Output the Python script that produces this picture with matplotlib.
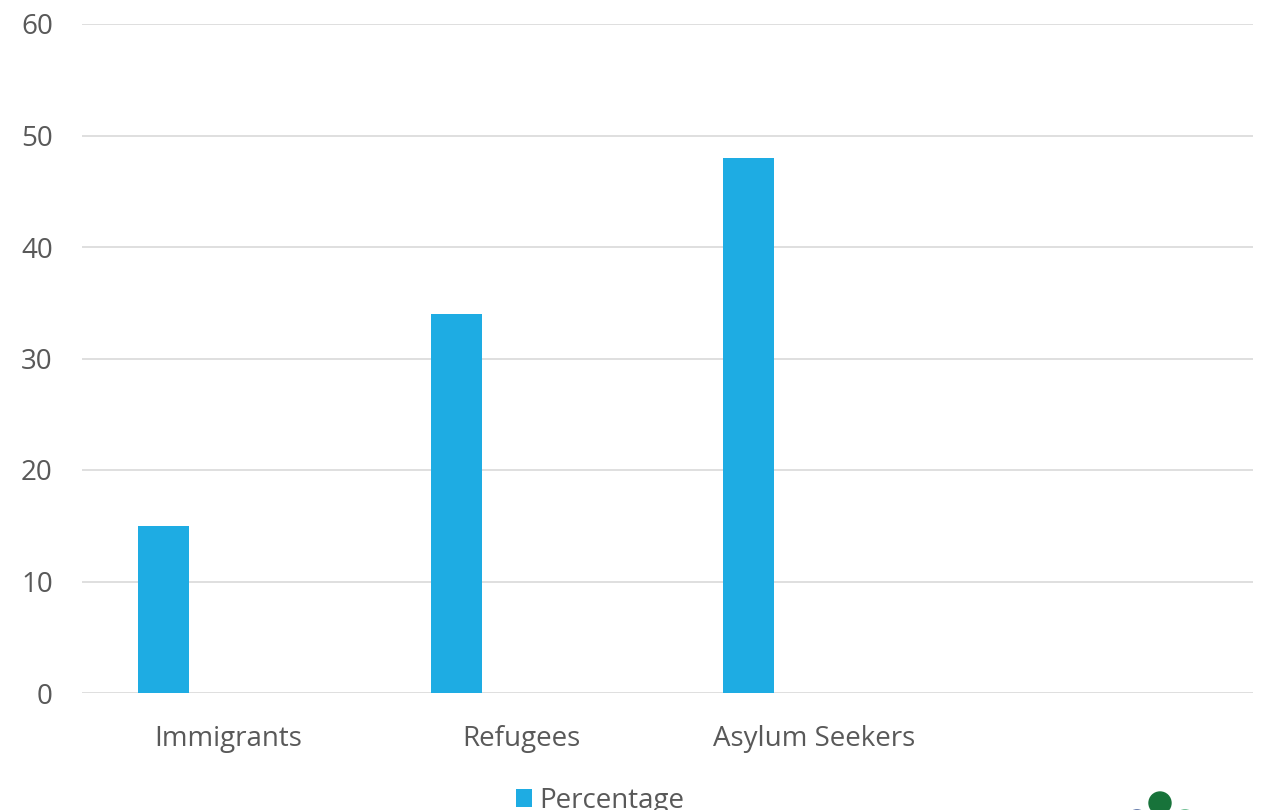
import matplotlib.pyplot as plt
from matplotlib.patches import Circle

categories = ["Immigrants", "Refugees", "Asylum Seekers", ""]
percentage = [15, 34, 48]
y_ticks = [0, 10, 20, 30, 40, 50, 60]

plt.rcParams['font.family'] = ['Open Sans', 'DejaVu Sans']
text_color = '#595959'
bar_color = '#1eace3'

fig = plt.figure(figsize=(12.63, 8.1), dpi=100)
ax = fig.add_axes([82 / 1263, 1 - 693 / 810, 1171 / 1263, 669 / 810])

x = list(range(len(percentage)))
ax.bar([i - 0.222 for i in x], percentage, width=0.174, color=bar_color,
       label='Percentage', zorder=3)

ax.set_xlim(-0.5, len(categories) - 0.5)
ax.set_ylim(0, 60)
ax.set_yticks(y_ticks)
ax.set_xticks(range(len(categories)))
ax.set_xticklabels(categories)
ax.tick_params(axis='both', length=0, labelsize=20, colors=text_color)
ax.tick_params(axis='x', pad=23)
ax.tick_params(axis='y', pad=21)
ax.grid(axis='y', color='#d9d9d9', linewidth=1.2, zorder=0)
for s in ax.spines.values():
    s.set_visible(False)

ax.legend(loc='center', bbox_to_anchor=(600 / 1263, 1 - 801 / 810),
          bbox_transform=fig.transFigure, frameon=False, fontsize=20,
          labelcolor=text_color, handlelength=0.6, handleheight=0.6,
          handletextpad=0.25)

# partial logo at bottom right
fig.patches.append(Circle((1137, 810 - 822), 12, color='#2b4a8b', transform=None))
fig.patches.append(Circle((1185, 810 - 822), 12, color='#3aa86b', transform=None))
fig.patches.append(Circle((1160, 810 - 803), 11, color='#17733a', transform=None))

fig.savefig('out.png', dpi=100)
